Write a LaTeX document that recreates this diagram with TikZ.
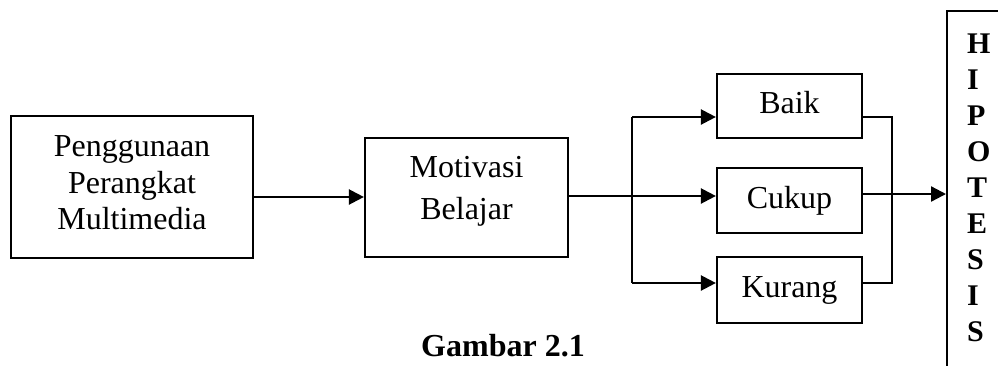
\documentclass[tikz,border=0pt]{standalone}
\usepackage{fontspec}
\setmainfont{Liberation Serif}
\usetikzlibrary{arrows.meta}
\begin{document}
\begin{tikzpicture}[x=1pt,y=-1pt,
  box/.style={draw,line width=2.2pt,inner sep=0pt},
  arr/.style={line width=2.3pt,-{Triangle[length=15pt,width=15pt]}},
  ln/.style={line width=2.2pt},
  thinln/.style={line width=1.4pt},
  big/.style={font=\fontsize{32}{36.5}\selectfont},
  small/.style={box,minimum width=145pt,font=\fontsize{32}{36.5}\selectfont,text height=22pt,text depth=7pt},
  letter/.style={anchor=base west,inner sep=0pt,font=\fontsize{30}{36}\selectfont\bfseries}]
\useasboundingbox (0,0) rectangle (998,365);
\clip (0,0) rectangle (998,365);
% main boxes
\node[box, minimum width=242pt, minimum height=142pt] (b1) at (132,187) {};
\node[big, align=center, inner sep=0pt] (t1) at (132,183) {Penggunaan\\Perangkat\\Multimedia};
\node[box, minimum width=203pt, minimum height=119pt] (b2) at (466.5,197.5) {};
\node[font=\fontsize{32}{42}\selectfont, align=center, inner sep=0pt] (t2) at (466.5,191.5) {Motivasi\\Belajar};
% result boxes
\node[small, minimum height=64pt] (baik) at (789.5,106) {Baik};
\node[small, minimum height=65pt] (cukup) at (789.5,200.5) {Cukup};
\node[small, minimum height=66pt] (kurang) at (789.5,290) {Kurang};
% hipotesis box
\node[draw,line width=1.8pt,anchor=north west,minimum width=80pt,minimum height=400pt] (hip) at (946,10) {};
\foreach \l [count=\i] in {H,I,P,O,T,E,S,I,S}
  \node[letter] (h\i) at (967,{53+36.1*(\i-1)}) {\l};
% connectors
\coordinate (m) at (0,197);
\coordinate (m2) at (0,196);
\coordinate (top) at (632,117);
\coordinate (bot) at (632,283);
\coordinate (rtop) at (892,117);
\coordinate (rbot) at (892,283);
\draw[arr] (b1.east |- m) -- (b2.west |- m);
\draw[arr] (b2.east |- m2) -- (cukup.west |- m2);
\draw[ln] (top) -- (bot);
\draw[arr] (top) -- (baik.west |- top);
\draw[arr] (bot) -- (kurang.west |- bot);
\draw[thinln] (baik.east |- rtop) -- (rtop) -- (rbot) -- (kurang.east |- rbot);
\draw[arr] (cukup.east |- 0,194) -- (hip.west |- 0,194);
% caption
\node[anchor=base,inner sep=0pt,font=\fontsize{32}{36}\selectfont\bfseries] (cap) at (503,356) {Gambar 2.1};
\end{tikzpicture}
\end{document}
